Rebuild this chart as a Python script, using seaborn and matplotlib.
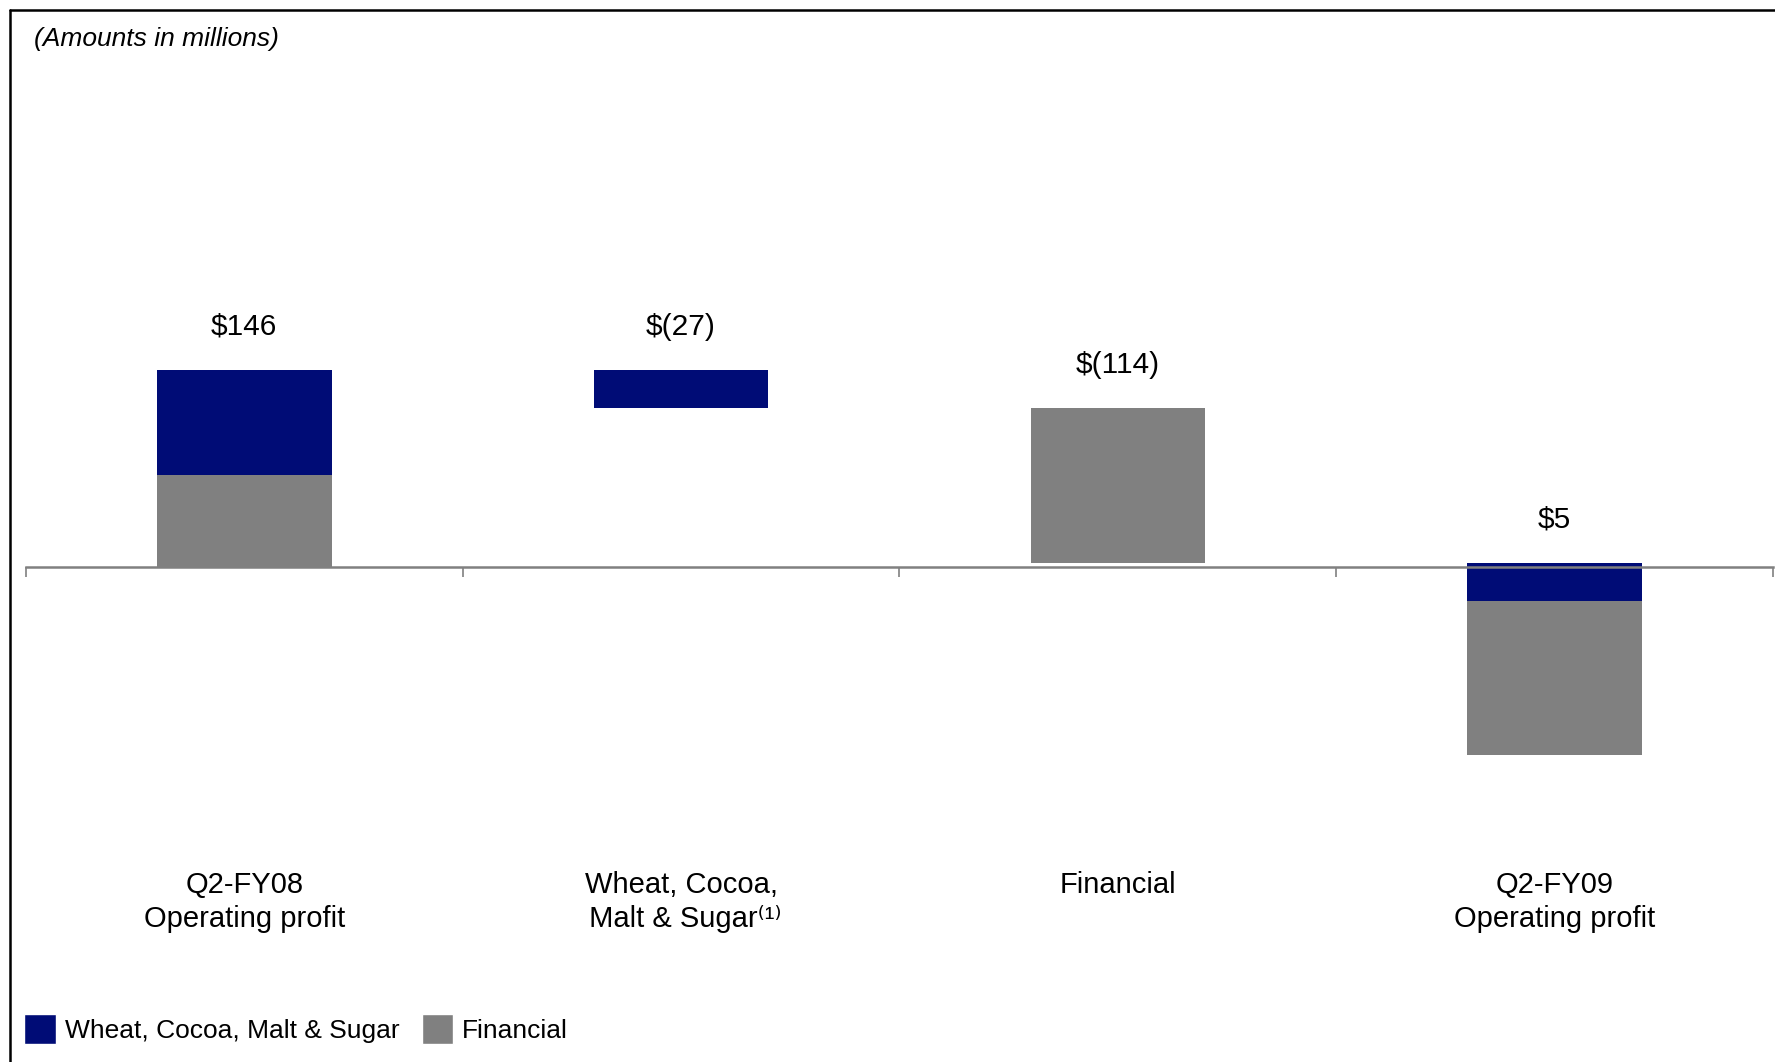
import numpy as np
import matplotlib
matplotlib.use("Agg")
import matplotlib.pyplot as plt
from matplotlib.patches import Patch
from matplotlib.lines import Line2D
import seaborn as sns

# Waterfall: Q2-FY08 -> Q2-FY09 operating profit (amounts in millions)
categories = ["Q2-FY08\nOperating profit",
              "Wheat, Cocoa,\n Malt & Sugar\u207d\u00b9\u207e",
              "Financial",
              "Q2-FY09\nOperating profit"]
value_labels = ["\\$146", "\\$(27)", "\\$(114)", "\\$5"]

# stacked segments (bottom, height) for each series
wheat_bottom = [68, 118, 0, -25]
wheat_height = [78, 28, 0, 28]
fin_bottom = [0, 0, 3, -139]
fin_height = [68, 0, 115, 114]

blue = "#000C76"
grey = "#808080"

sns.set_style("white")
plt.rcParams["font.family"] = ["Liberation Sans", "DejaVu Sans"]
plt.rcParams["text.color"] = "black"
plt.rcParams["xtick.color"] = "black"

fig = plt.figure(figsize=(17.75, 10.62), dpi=100)
ax = fig.add_axes([26 / 1775, 1 - 860 / 1062, 1747 / 1775, 760 / 1062])

sns.barplot(x=categories, y=fin_height, bottom=fin_bottom, color=grey,
            saturation=1, width=0.4, linewidth=0, ax=ax)
sns.barplot(x=categories, y=wheat_height, bottom=wheat_bottom, color=blue,
            saturation=1, width=0.4, linewidth=0, ax=ax)

ax.set_xlim(-0.5, 3.5)
ax.set_ylim(-217, 346)

# value labels above each bar
tops = [max(wb + wh, fb + fh) for wb, wh, fb, fh in
        zip(wheat_bottom, wheat_height, fin_bottom, fin_height)]
for i, (t, lab) in enumerate(zip(tops, value_labels)):
    ax.annotate(lab, (i, t), xytext=(0, 31), textcoords="offset points",
                ha="center", va="center", fontsize=21.5)

# axis through zero with boundary ticks
for s in ["top", "right", "left"]:
    ax.spines[s].set_visible(False)
ax.spines["bottom"].set_position(("data", 0))
ax.spines["bottom"].set_color(grey)
ax.spines["bottom"].set_linewidth(1.8)
ax.set_yticks([])
ax.set_xticks(range(len(categories)))
ax.set_xticklabels(categories, fontsize=21, linespacing=1.28)
ax.set_xticks(np.arange(-0.5, 4, 1), minor=True)
ax.tick_params(axis="x", which="major", length=0, pad=218.5)
ax.tick_params(axis="x", which="minor", length=7, width=1.2, color=grey,
               direction="out", bottom=True)
ax.set_xlabel("")
ax.set_ylabel("")

fig.text(34 / 1775, 1 - 39 / 1062, "(Amounts in millions)", fontsize=19,
         style="italic", ha="left", va="center")

handles = [Patch(facecolor=blue, label="Wheat, Cocoa, Malt & Sugar"),
           Patch(facecolor=grey, label="Financial")]
fig.legend(handles=handles, loc="lower left", bbox_to_anchor=(24 / 1775, 18 / 1062),
           ncol=2, frameon=False, fontsize=19, handlelength=1.2, handleheight=1.4,
           handletextpad=0.34, columnspacing=0.85, borderpad=0, borderaxespad=0)

# slide frame (left and top edges)
fig.add_artist(Line2D([10 / 1775, 10 / 1775], [0, 1 - 10 / 1062], color="black",
                      lw=1.8, transform=fig.transFigure))
fig.add_artist(Line2D([10 / 1775, 1], [1 - 10 / 1062, 1 - 10 / 1062], color="black",
                      lw=1.8, transform=fig.transFigure))

fig.savefig("out.png", dpi=100)
